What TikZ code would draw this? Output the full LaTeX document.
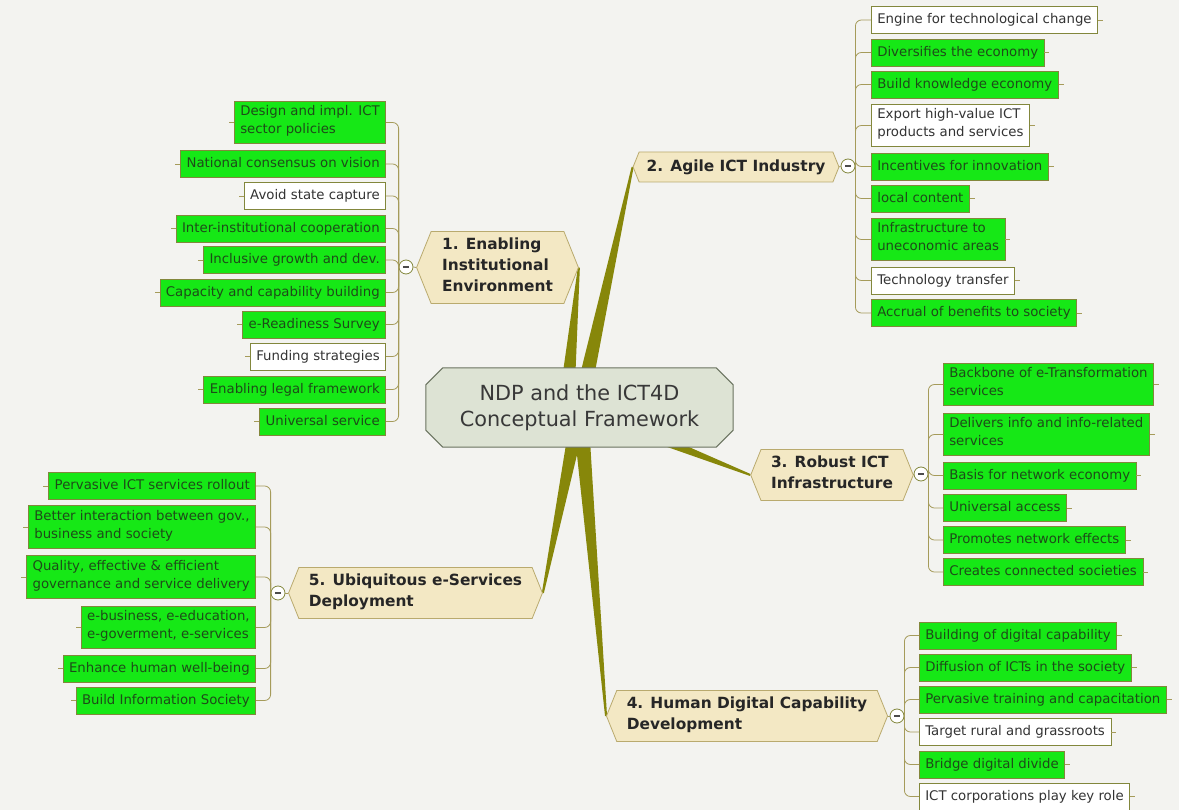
\documentclass[tikz,border=0pt]{standalone}
\usepackage{fontspec}
\setmainfont{DejaVu Sans}
\usetikzlibrary{calc}
\usetikzlibrary{shapes.symbols,backgrounds}

\definecolor{paper}{RGB}{243,243,240}
\definecolor{leafgreen}{RGB}{22,232,22}
\definecolor{leafedge}{RGB}{130,135,60}
\definecolor{leafink}{RGB}{30,75,25}
\definecolor{twigcol}{RGB}{165,155,90}
\definecolor{limbcol}{RGB}{135,135,10}
\definecolor{topicfill}{RGB}{243,232,196}
\definecolor{topicedge}{RGB}{185,170,110}
\definecolor{corefill}{RGB}{221,227,212}
\definecolor{coreedge}{RGB}{105,115,95}

\begin{document}
\begin{tikzpicture}[
  x=1pt, y=-1pt,
  twig/.style = {draw=twigcol, line width=0.8pt, rounded corners=6pt},
  limb/.style = {fill=limbcol},
  leaf/.style = {draw=leafedge, line width=0.6pt, align=left, inner xsep=6pt, inner ysep=4.5pt,
    font=\fontsize{13.3}{18}\selectfont, execute at begin node=\strut, execute at end node=\strut},
  green leaf/.style = {leaf, fill=leafgreen, text=leafink},
  plain leaf/.style = {leaf, fill=white, text=black!80},
  topic/.style = {shape=signal, signal to=east and west, signal pointer angle=136,
    draw=topicedge, fill=topicfill, line width=0.8pt, text=black!85, align=left,
    inner xsep=10pt, inner ysep=6pt, font=\bfseries\fontsize{15.4}{21}\selectfont,
    execute at begin node=\strut, execute at end node=\strut},
  core/.style = {rectangle, minimum width=307pt, minimum height=79pt,
    align=center, text=black!78, font=\fontsize{20.8}{26}\selectfont},
  core edge/.style = {draw=coreedge, fill=corefill, line width=1pt},
  collapse/.style = {circle, draw=leafedge, fill=white, line width=0.8pt, minimum size=14pt, inner sep=0pt,
    path picture={\draw[line width=1.6pt, black!70] ([xshift=-3pt]path picture bounding box.center) -- ([xshift=3pt]path picture bounding box.center);}}
  ]
  \useasboundingbox (0,0) rectangle (1179,810);

  % 1. enabling environment
  \node[green leaf, anchor=east] (l1a) at (386,122.5) {Design and impl. ICT\\sector policies};
  \node[green leaf, anchor=east] (l1b) at (386,164) {National consensus on vision};
  \node[plain leaf, anchor=east] (l1c) at (386,196) {Avoid state capture};
  \node[green leaf, anchor=east] (l1d) at (386,228.5) {Inter-institutional cooperation};
  \node[green leaf, anchor=east] (l1e) at (386,260) {Inclusive growth and dev.};
  \node[green leaf, anchor=east] (l1f) at (386,292.5) {Capacity and capability building};
  \node[green leaf, anchor=east] (l1g) at (386,324.5) {e-Readiness Survey};
  \node[plain leaf, anchor=east] (l1h) at (386,356.5) {Funding strategies};
  \node[green leaf, anchor=east] (l1i) at (386,389.5) {Enabling legal framework};
  \node[green leaf, anchor=east] (l1j) at (386,421.5) {Universal service};

  % 2. ict industry
  \node[plain leaf, anchor=west] (l2a) at (871,20) {Engine for technological change};
  \node[green leaf, anchor=west] (l2b) at (871,52.5) {Diversifies the economy};
  \node[green leaf, anchor=west] (l2c) at (871,84.5) {Build knowledge economy};
  \node[plain leaf, anchor=west] (l2d) at (871,125.5) {Export high-value ICT\\products and services};
  \node[green leaf, anchor=west] (l2e) at (871,166.5) {Incentives for innovation};
  \node[green leaf, anchor=west] (l2f) at (871,198.5) {local content};
  \node[green leaf, anchor=west] (l2g) at (871,239.5) {Infrastructure to\\uneconomic areas};
  \node[plain leaf, anchor=west] (l2h) at (871,280.5) {Technology transfer};
  \node[green leaf, anchor=west] (l2i) at (871,313) {Accrual of benefits to society};

  % 3. infrastructure
  \node[green leaf, anchor=west] (l3a) at (943,384.5) {Backbone of e-Transformation\\services};
  \node[green leaf, anchor=west] (l3b) at (943,434.5) {Delivers info and info-related\\services};
  \node[green leaf, anchor=west] (l3c) at (943,475.5) {Basis for network economy};
  \node[green leaf, anchor=west] (l3d) at (943,508) {Universal access};
  \node[green leaf, anchor=west] (l3e) at (943,540) {Promotes network effects};
  \node[green leaf, anchor=west] (l3f) at (943,572) {Creates connected societies};

  % 4. digital capability
  \node[green leaf, anchor=west] (l4a) at (919,635.5) {Building of digital capability};
  \node[green leaf, anchor=west] (l4b) at (919,667.5) {Diffusion of ICTs in the society};
  \node[green leaf, anchor=west] (l4c) at (919,699.5) {Pervasive training and capacitation};
  \node[plain leaf, anchor=west] (l4d) at (919,732) {Target rural and grassroots};
  \node[green leaf, anchor=west] (l4e) at (919,764.5) {Bridge digital divide};
  \node[plain leaf, anchor=west] (l4f) at (919,796.5) {ICT corporations play key role};

  % 5. e-services
  \node[green leaf, anchor=east] (l5a) at (256,486) {Pervasive ICT services rollout};
  \node[green leaf, anchor=east] (l5b) at (256,527) {Better interaction between gov.,\\business and society};
  \node[green leaf, anchor=east] (l5c) at (256,577) {Quality, effective \& efficient\\governance and service delivery};
  \node[green leaf, anchor=east] (l5d) at (256,627.5) {e-business, e-education,\\e-goverment, e-services};
  \node[green leaf, anchor=east] (l5e) at (256,668.5) {Enhance human well-being};
  \node[green leaf, anchor=east] (l5f) at (256,700.5) {Build Information Society};

  \node[collapse] (m1) at (406,267) {};
  \node[collapse] (m2) at (848,166) {};
  \node[collapse] (m3) at (921,474) {};
  \node[collapse] (m4) at (897,716) {};
  \node[collapse] (m5) at (278,593) {};

  \node[topic, inner xsep=11pt] (n1) at (497.5,267.5) {1. Enabling\\Institutional\\Environment};
  \node[topic, inner xsep=7.5pt, inner ysep=4.5pt] (n2) at (736,167) {2. Agile ICT Industry};
  \node[topic] (n3) at (832,475) {3. Robust ICT\\Infrastructure};
  \node[topic] (n4) at (747,716) {4. Human Digital Capability\\Development};
  \node[topic] (n5) at (415.5,593) {5. Ubiquitous e-Services\\Deployment};

  \node[core] (ndp) at (579.5,407.5) {NDP and the ICT4D\\Conceptual Framework};

  \draw[twig] (n1.west) -- (m1.east);
  \draw[twig] (n2.east) -- (m2.west);
  \draw[twig] (n3.east) -- (m3.west);
  \draw[twig] (n4.east) -- (m4.west);
  \draw[twig] (n5.west) -- (m5.east);

  \foreach \l in {l1a,l1b,l1c,l1d,l1e,l1f,l1g,l1h,l1i,l1j} {
    \draw[twig] (m1.west) |- (\l.east);
    \draw[twig] (\l.west) -- ++(-5,0);
  }
  \foreach \l in {l5a,l5b,l5c,l5d,l5e,l5f} {
    \draw[twig] (m5.west) |- (\l.east);
    \draw[twig] (\l.west) -- ++(-5,0);
  }
  \foreach \m/\l in {m2/l2a,m2/l2b,m2/l2c,m2/l2d,m2/l2e,m2/l2f,m2/l2g,m2/l2h,m2/l2i,
      m3/l3a,m3/l3b,m3/l3c,m3/l3d,m3/l3e,m3/l3f,
      m4/l4a,m4/l4b,m4/l4c,m4/l4d,m4/l4e,m4/l4f} {
    \draw[twig] (\m.east) |- (\l.west);
    \draw[twig] (\l.east) -- ++(5,0);
  }

  \begin{scope}[on background layer]
    \fill[paper] (0,0) rectangle (1179,810);
    % tapered limbs from the centre
    \coordinate (hub) at (580,408);
    \coordinate (hub1) at (566,408);
    \foreach \s/\t in {hub1/n1.east, hub/n2.west, hub/n3.west, hub/n4.west, hub/n5.east}
      \fill[limb] ($(\s)!8pt!90:(\t)$) -- ($(\t)!1pt!-90:(\s)$) -- ($(\t)!1pt!90:(\s)$) -- ($(\s)!8pt!-90:(\t)$) -- cycle;
    % octagon round the centre text
    \filldraw[core edge] ([xshift=17pt]ndp.north west) -- ([xshift=-17pt]ndp.north east)
      -- ([yshift=-17pt]ndp.north east) -- ([yshift=17pt]ndp.south east)
      -- ([xshift=-17pt]ndp.south east) -- ([xshift=17pt]ndp.south west)
      -- ([yshift=17pt]ndp.south west) -- ([yshift=-17pt]ndp.north west) -- cycle;
  \end{scope}
\end{tikzpicture}
\end{document}
